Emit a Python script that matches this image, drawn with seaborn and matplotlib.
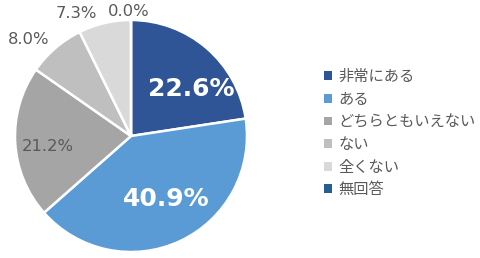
import matplotlib
matplotlib.use("Agg")
import matplotlib.pyplot as plt
import seaborn as sns
import numpy as np
from matplotlib.patches import Patch

sns.set_theme(style="white")
plt.rcParams['font.family'] = ['Noto Sans CJK JP', 'DejaVu Sans']

categories = ["非常にある", "ある", "どちらともいえない", "ない", "全くない", "無回答"]
values = [22.6, 40.9, 21.2, 8.0, 7.3, 0.0]
colors = ["#2F5597", "#5B9BD5", "#A5A5A5", "#BFBFBF", "#D9D9D9", "#255E91"]

# label styling: (radius factor, angle shift deg, color, size, weight)
label_style = [
    (0.66, -11, "white", 18, "bold"),
    (0.62, 4, "white", 18, "bold"),
    (0.72, 4, "#595959", 11.8, "normal"),
    (1.21, 6, "#595959", 11.8, "normal"),
    (1.16, 11, "#595959", 11.8, "normal"),
    (1.07, 1.0, "#595959", 11.8, "normal"),
]

fig = plt.figure(figsize=(4.8, 2.58), dpi=100)
ax = fig.add_axes([15 / 480, 6 / 258, 232 / 480, 232 / 258])
wedges, _ = ax.pie(values, colors=colors, startangle=90, counterclock=False,
                   wedgeprops=dict(edgecolor="white", linewidth=1.8))
ax.set_xlim(-1, 1)
ax.set_ylim(-1, 1)
ax.set_aspect("auto")
ax.axis("off")

for w, v, (rf, da, c, s, fw) in zip(wedges, values, label_style):
    ang = np.deg2rad((w.theta1 + w.theta2) / 2 + da)
    ax.text(rf * np.cos(ang), rf * np.sin(ang), f"{v:.1f}%", ha="center", va="center",
            color=c, fontsize=s, fontweight=fw, family="DejaVu Sans", clip_on=False)

handles = [Patch(facecolor=c, edgecolor="none") for c in colors]
leg = fig.legend(handles, categories, loc="upper left", bbox_to_anchor=(324 / 480, 1 - 68 / 258),
                 frameon=False, fontsize=11, handlelength=0.5, handleheight=0.5,
                 handletextpad=0.45, labelspacing=0.37, borderaxespad=0, borderpad=0)
for t in leg.get_texts():
    t.set_color("#595959")

fig.savefig("out.png", dpi=100)
